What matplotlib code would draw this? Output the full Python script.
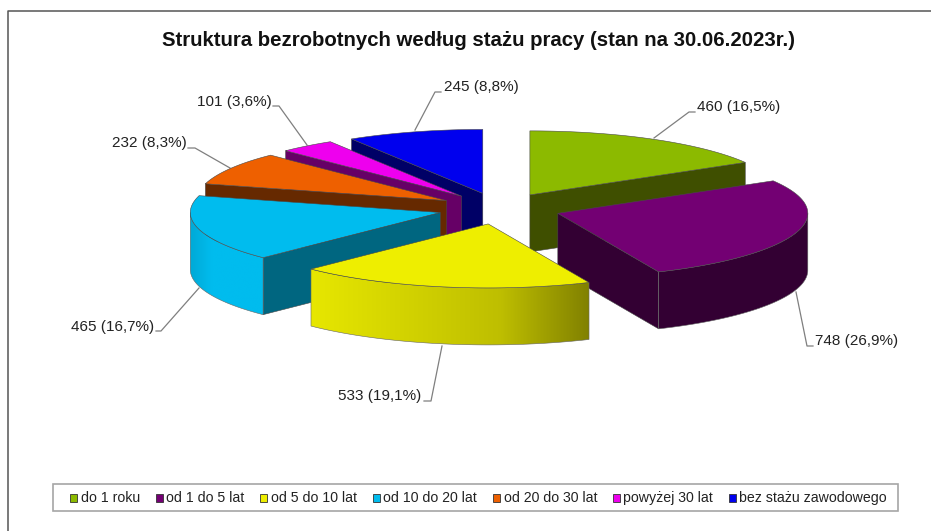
#!/usr/bin/env python3
"""Struktura bezrobotnych - exploded 3D pie, drawn by hand as polygons."""

import numpy as np
import matplotlib
matplotlib.use('Agg')
import matplotlib.pyplot as plt
from matplotlib.patches import Polygon, Rectangle

plt.rcParams['font.family'] = ['Liberation Sans', 'DejaVu Sans']

TITLE = 'Struktura bezrobotnych według stażu pracy (stan na 30.06.2023r.)'
CATEGORIES = ['do 1 roku', 'od 1 do 5 lat', 'od 5 do 10 lat', 'od 10 do 20 lat',
              'od 20 do 30 lat', 'powyżej 30 lat', 'bez stażu zawodowego']
VALUES = [460, 748, 533, 465, 232, 101, 245]
PERCENTS = ['16,5', '26,9', '19,1', '16,7', '8,3', '3,6', '8,8']

TOP_COLORS = ['#8cba00', '#730073', '#eeee00', '#00bcee', '#ee6000', '#ee00ee', '#0000ee']
CUT_COLORS = ['#3f4f00', '#330033', '#6b6b00', '#006680', '#662900', '#660066', '#000066']
# outer wall brightness at left / middle / right
WALL_SHADE = [(0.5, 0.5, 0.5), (0.45, 0.45, 0.45), (0.97, 0.8, 0.54), (0.9, 1.0, 1.0),
              (1, 1, 1), (1, 1, 1), (1, 1, 1)]
DRAW_ORDER = [6, 5, 4, 0, 3, 1, 2]

# pie geometry in pixels
CX, CY = 499.5, 208.5
RX, RY = 250, 64
DEPTH = 57
EXPLODE = 0.245

# label anchor (x, y) and leader line, pixels
LABEL_POS = [(697, 107), (815, 341), (338, 396), (71, 327), (112, 143), (197, 102), (444, 87)]
LEADERS = [[(654, 138), (689, 112), (695, 112)], [(796, 292), (807, 346), (813, 346)],
           [(442, 346), (431, 401), (424, 401)], [(199, 288), (161, 331), (156, 331)],
           [(230, 168), (195, 148), (188, 148)], [(307, 145), (279, 106), (273, 106)],
           [(415, 130), (435, 92), (441, 92)]]
LEGEND_SWATCH = [70, 156, 260, 373, 493, 613, 729]
LEGEND_TEXT = [81, 166, 271, 383, 504, 623, 739]

fig = plt.figure(figsize=(9.31, 5.31), dpi=100)
ax = fig.add_axes([0, 0, 1, 1])
ax.axis('off')

# frame: top and left only, the rest is cropped away
ax.plot([8, 8, 931], [531, 11, 11], color='#555555', lw=1.1, zorder=1)

ax.text(479, 41, TITLE, fontsize=14.7, fontweight='bold', ha='center', va='center',
        color='#111111')


def rim(ang, ox, oy):
    return ox + RX * np.sin(ang), oy - RY * np.cos(ang)


edge = dict(edgecolor='#484848', linewidth=0.4)
z = 5
angles = np.cumsum([0] + VALUES) / sum(VALUES) * 2 * np.pi

for i in DRAW_ORDER:
    a0, a1 = angles[i], angles[i + 1]
    mid = (a0 + a1) / 2
    ox = CX + EXPLODE * RX * np.sin(mid)
    oy = CY - EXPLODE * RY * np.cos(mid)

    # radial cut walls, only those turned towards the viewer
    for a, normal in ((a0, a0 - np.pi / 2), (a1, a1 + np.pi / 2)):
        if np.cos(normal) < -1e-6:
            x, y = rim(a, ox, oy)
            ax.add_patch(Polygon([(ox, oy), (x, y), (x, y + DEPTH), (ox, oy + DEPTH)],
                                 facecolor=CUT_COLORS[i], zorder=z, **edge))
            z += 1

    # curved outer wall, gradient image clipped to the wall outline
    lo, hi = max(a0, np.pi / 2), min(a1, 3 * np.pi / 2)
    if hi > lo:
        th = np.linspace(lo, hi, 80)
        xs, ys = rim(th, ox, oy)
        outline = np.vstack([np.column_stack([xs, ys]),
                             np.column_stack([xs[::-1], ys[::-1] + DEPTH])])
        wall = Polygon(outline, facecolor='none', edgecolor='#666666', linewidth=0.4, zorder=z + 1)
        ax.add_patch(wall)
        k = np.interp(np.linspace(0, 1, 256), [0, 0.68, 1], WALL_SHADE[i])
        if i == 3:
            k = np.interp(np.linspace(0, 1, 256), [0, 0.3, 1], WALL_SHADE[i])
        rgb = np.array(matplotlib.colors.to_rgb(TOP_COLORS[i]))
        grad = (k[None, :, None] * rgb[None, None, :])
        im = ax.imshow(grad, extent=(xs.min(), xs.max(), ys.max() + DEPTH, ys.min()),
                       aspect='auto', zorder=z, interpolation='bilinear')
        im.set_clip_path(wall)
        z += 2

    # top face
    th = np.linspace(a0, a1, 80)
    xs, ys = rim(th, ox, oy)
    ax.add_patch(Polygon(np.vstack([[ox, oy], np.column_stack([xs, ys])]),
                         facecolor=TOP_COLORS[i], zorder=z, **edge))
    z += 1

# leader lines and labels
for i in range(len(VALUES)):
    px, py = zip(*LEADERS[i])
    ax.plot(px, py, color='#7f7f7f', lw=0.9, zorder=2)
    x, y = LABEL_POS[i]
    ax.text(x, y, f'{VALUES[i]} ({PERCENTS[i]}%)', fontsize=11, ha='left', va='center',
            color='#222222', zorder=200)

# legend box, built by hand to hold the spacing
ax.add_patch(Rectangle((53, 484), 845, 27, facecolor='white', edgecolor='#a6a6a6',
                       lw=1.2, zorder=100))
for i, name in enumerate(CATEGORIES):
    ax.add_patch(Rectangle((LEGEND_SWATCH[i], 494), 7, 7.5, facecolor=TOP_COLORS[i],
                           edgecolor='#333333', lw=0.6, zorder=101))
    ax.text(LEGEND_TEXT[i], 498, name, fontsize=10.2, ha='left', va='center',
            color='#222222', zorder=101)

ax.set_xlim(0, 931)
ax.set_ylim(531, 0)

fig.savefig('out.png', dpi=100)
